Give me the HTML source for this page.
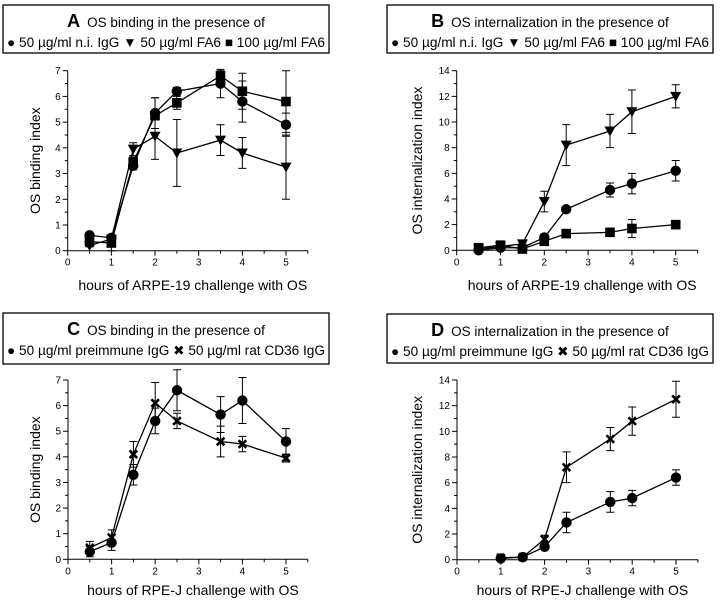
<!DOCTYPE html>
<html><head><meta charset="utf-8">
<style>
html,body{margin:0;padding:0;background:#fff;}
svg{display:block;font-family:"Liberation Sans",Arial,sans-serif;}
</style></head>
<body>
<svg id="fig" width="720" height="602" viewBox="0 0 720 602" xmlns="http://www.w3.org/2000/svg"></svg>
<script>
// ---- data ----
const hoursAB = [0.5, 1, 1.5, 2, 2.5, 3.5, 4, 5];
const hoursC = [0.5, 1, 1.5, 2, 2.5, 3.5, 4, 5];
const hoursD = [1, 1.5, 2, 2.5, 3.5, 4, 5];
const aCircle = [0.6, 0.5, 3.3, 5.35, 6.2, 6.5, 5.8, 4.9];
const aCircleErr = [0.05, 0.1, 0.15, 0.6, 0.15, 0.55, 0.8, 0.45];
const aTri = [0.2, 0.45, 3.95, 4.45, 3.8, 4.3, 3.8, 3.25];
const aTriErr = [0.05, 0.1, 0.25, 0.9, 1.3, 0.6, 0.6, 1.25];
const aSq = [0.35, 0.3, 3.45, 5.25, 5.75, 6.8, 6.2, 5.8];
const aSqErr = [0.1, 0.3, 0.2, 0.7, 0.25, 0.2, 0.7, 1.2];
const bCircle = [0, 0.2, 0.2, 1.0, 3.2, 4.7, 5.2, 6.2];
const bCircleErr = [0.05, 0.1, 0.1, 0.25, 0.2, 0.55, 0.8, 0.8];
const bTri = [0.1, 0.3, 0.5, 3.8, 8.2, 9.3, 10.8, 12];
const bTriErr = [0.05, 0.1, 0.1, 0.8, 1.6, 1.3, 1.7, 0.9];
const bSq = [0.2, 0.4, 0.1, 0.7, 1.3, 1.4, 1.7, 2.0];
const bSqErr = [0.05, 0.1, 0.1, 0.25, 0.1, 0.1, 0.7, 0.3];
const cCircle = [0.3, 0.65, 3.3, 5.4, 6.6, 5.65, 6.2, 4.6];
const cCircleErr = [0.2, 0.3, 0.4, 0.5, 0.8, 0.7, 0.9, 0.5];
const cCross = [0.45, 0.85, 4.1, 6.1, 5.4, 4.6, 4.5, 3.95];
const cCrossErr = [0.25, 0.3, 0.5, 0.8, 0.3, 0.6, 0.3, 0.15];
const dCircle = [0.1, 0.2, 1.0, 2.9, 4.5, 4.8, 6.4];
const dCircleErr = [0.05, 0.05, 0.2, 0.8, 0.8, 0.6, 0.6];
const dCross = [0.15, 0.2, 1.6, 7.2, 9.4, 10.8, 12.5];
const dCrossErr = [0.05, 0.05, 0.3, 1.2, 0.9, 1.1, 1.4];
const xTicks = [0, 1, 2, 3, 4, 5];
const yTicksBind = [0, 1, 2, 3, 4, 5, 6, 7];
const yTicksInt = [0, 2, 4, 6, 8, 10, 12, 14];

const NS = "http://www.w3.org/2000/svg";
const svg = document.getElementById('fig');
function mk(tag, attrs, parent) {
  const e = document.createElementNS(NS, tag);
  for (const k in attrs) e.setAttribute(k, attrs[k]);
  (parent || svg).appendChild(e);
  return e;
}

function marker(g, type, cx, cy, s) {
  let e;
  if (type === 'circle') e = mk('circle', {cx: cx, cy: cy, r: s * 0.52, fill: '#000'}, g);
  else if (type === 'square') e = mk('rect', {x: cx - s * 0.48, y: cy - s * 0.48, width: s * 0.96, height: s * 0.96, fill: '#000'}, g);
  else if (type === 'tri') e = mk('path', {d: `M${cx - s * 0.55},${cy - s * 0.45}L${cx + s * 0.55},${cy - s * 0.45}L${cx},${cy + s * 0.55}Z`, fill: '#000'}, g);
  else e = mk('path', {d: `M${cx - s * 0.38},${cy - s * 0.38}L${cx + s * 0.38},${cy + s * 0.38}M${cx + s * 0.38},${cy - s * 0.38}L${cx - s * 0.38},${cy + s * 0.38}`, stroke: '#000', 'stroke-width': 2.6}, g);
  return e;
}

function panel(p) {
  const g = mk('g', {});
  
  
  const box = mk('rect', {x: p.bx, y: p.by, width: 326, height: p.bh, fill: '#fff', stroke: '#000', 'stroke-width': 1.3}, g);
  
  
  const t = mk('text', {x: p.bx + 163, y: p.by + 22, 'text-anchor': 'middle', 'font-size': 13.5}, g);
  
  
  const tb = mk('tspan', {'font-weight': 'bold', 'font-size': 18}, t);
  tb.textContent = p.letter;
  const tr = mk('tspan', {dx: 7}, t);
  tr.textContent = p.title;
  const lg = mk('text', {x: p.bx + 4, y: p.by + 42, 'font-size': 13.5, textLength: 318, lengthAdjust: 'spacingAndGlyphs'}, g);
  
  
  lg.textContent = p.legend;

  const X = v => p.x0 + v * (p.x5 - p.x0) / 5;
  const Y = v => p.y0 - v * (p.y0 - p.yTop) / p.yMax;
  const ax = mk('path', {d: `M${X(0)},${p.yTop}V${p.y0}H${X(5.5)}`, stroke: '#000', 'stroke-width': 1, fill: 'none'}, g);
  
  
  for (let h = 0; h <= 11; h++) {
    const v = h / 2;
    mk('line', {x1: X(v), x2: X(v), y1: p.y0, y2: p.y0 + (h % 2 ? 3 : 5), stroke: '#000'}, g);
  }
  xTicks.forEach(v => {
    const tl = mk('text', {x: X(v), y: p.y0 + 15, 'text-anchor': 'middle', 'font-size': 10}, g);
    
    
    tl.textContent = v;
  });
  const step = p.yTicks[1] - p.yTicks[0];
  p.yTicks.forEach((v, i) => {
    mk('line', {x1: X(0) - 5, x2: X(0), y1: Y(v), y2: Y(v), stroke: '#000'}, g);
    if (i < p.yTicks.length - 1) mk('line', {x1: X(0) - 3, x2: X(0), y1: Y(v + step / 2), y2: Y(v + step / 2), stroke: '#000'}, g);
    const tl = mk('text', {x: X(0) - 7, y: Y(v) + 3.5, 'text-anchor': 'end', 'font-size': 10}, g);
    
    
    tl.textContent = v;
  });
  const xl = mk('text', {x: (X(0) + X(5.5)) / 2 + 5, y: p.xly, 'text-anchor': 'middle', 'font-size': 14}, g);
  
  
  xl.textContent = p.xlabel;
  const yc = (p.y0 + p.yTop) / 2;
  const yl = mk('text', {x: p.ylx, y: yc, 'text-anchor': 'middle', 'font-size': 14, transform: `rotate(-90 ${p.ylx} ${yc})`}, g);
  
  
  yl.textContent = p.ylabel;
  p.series.forEach(s => {
    const sg = mk('g', {}, g);
    
    
    const d = s.vals.map((v, i) => (i ? 'L' : 'M') + X(p.hours[i]) + ',' + Y(v)).join('');
    mk('path', {d: d, stroke: '#000', 'stroke-width': 1.3, fill: 'none'}, sg);
    s.vals.forEach((v, i) => {
      const x = X(p.hours[i]), e = s.err[i];
      mk('path', {d: `M${x},${Y(v + e)}V${Y(v - e)}M${x - 4},${Y(v + e)}H${x + 4}M${x - 4},${Y(v - e)}H${x + 4}`, stroke: '#000', 'stroke-width': 1}, sg);
      const m = marker(sg, s.type, x, Y(v), 10);
      
      
    });
  });
}

panel({letter: 'A', title: 'OS binding in the presence of', legend: '\u25CF 50 \u00B5g/ml n.i. IgG \u25BC 50 \u00B5g/ml FA6  \u25A0 100 \u00B5g/ml FA6',
  bx: 3, by: 5, bh: 48, x0: 67.7, x5: 286, y0: 250.7, yTop: 70.7, yMax: 7, yTicks: yTicksBind, hours: hoursAB,
  xlabel: 'hours of ARPE-19 challenge with OS', ylabel: 'OS binding index', xly: 290, ylx: 40,
  series: [{name: 'ni-igg', type: 'circle', vals: aCircle, err: aCircleErr},
           {name: 'fa6-50', type: 'tri', vals: aTri, err: aTriErr},
           {name: 'fa6-100', type: 'square', vals: aSq, err: aSqErr}]});
panel({letter: 'B', title: 'OS internalization in the presence of', legend: '\u25CF 50 \u00B5g/ml n.i. IgG \u25BC 50 \u00B5g/ml FA6  \u25A0 100 \u00B5g/ml FA6',
  bx: 387, by: 5, bh: 48, x0: 456.7, x5: 675.7, y0: 250.3, yTop: 70.7, yMax: 14, yTicks: yTicksInt, hours: hoursAB,
  xlabel: 'hours of ARPE-19 challenge with OS', ylabel: 'OS internalization index', xly: 290, ylx: 422,
  series: [{name: 'ni-igg', type: 'circle', vals: bCircle, err: bCircleErr},
           {name: 'fa6-50', type: 'tri', vals: bTri, err: bTriErr},
           {name: 'fa6-100', type: 'square', vals: bSq, err: bSqErr}]});
panel({letter: 'C', title: 'OS binding in the presence of', legend: '\u25CF 50 \u00B5g/ml preimmune IgG  \u2716 50 \u00B5g/ml rat CD36 IgG',
  bx: 3, by: 313, bh: 51, x0: 68, x5: 286, y0: 559.3, yTop: 380, yMax: 7, yTicks: yTicksBind, hours: hoursC,
  xlabel: 'hours of RPE-J challenge with OS', ylabel: 'OS binding index', xly: 595, ylx: 40,
  series: [{name: 'preimmune-igg', type: 'circle', vals: cCircle, err: cCircleErr},
           {name: 'cd36-igg', type: 'cross', vals: cCross, err: cCrossErr}]});
panel({letter: 'D', title: 'OS  internalization in the presence of', legend: '\u25CF 50 \u00B5g/ml preimmune IgG  \u2716 50 \u00B5g/ml rat CD36 IgG',
  bx: 387, by: 314, bh: 49, x0: 457, x5: 676, y0: 559.7, yTop: 380, yMax: 14, yTicks: yTicksInt, hours: hoursD,
  xlabel: 'hours of RPE-J challenge with OS', ylabel: 'OS internalization index', xly: 595, ylx: 422,
  series: [{name: 'preimmune-igg', type: 'circle', vals: dCircle, err: dCircleErr},
           {name: 'cd36-igg', type: 'cross', vals: dCross, err: dCrossErr}]});
</script>
</body></html>
